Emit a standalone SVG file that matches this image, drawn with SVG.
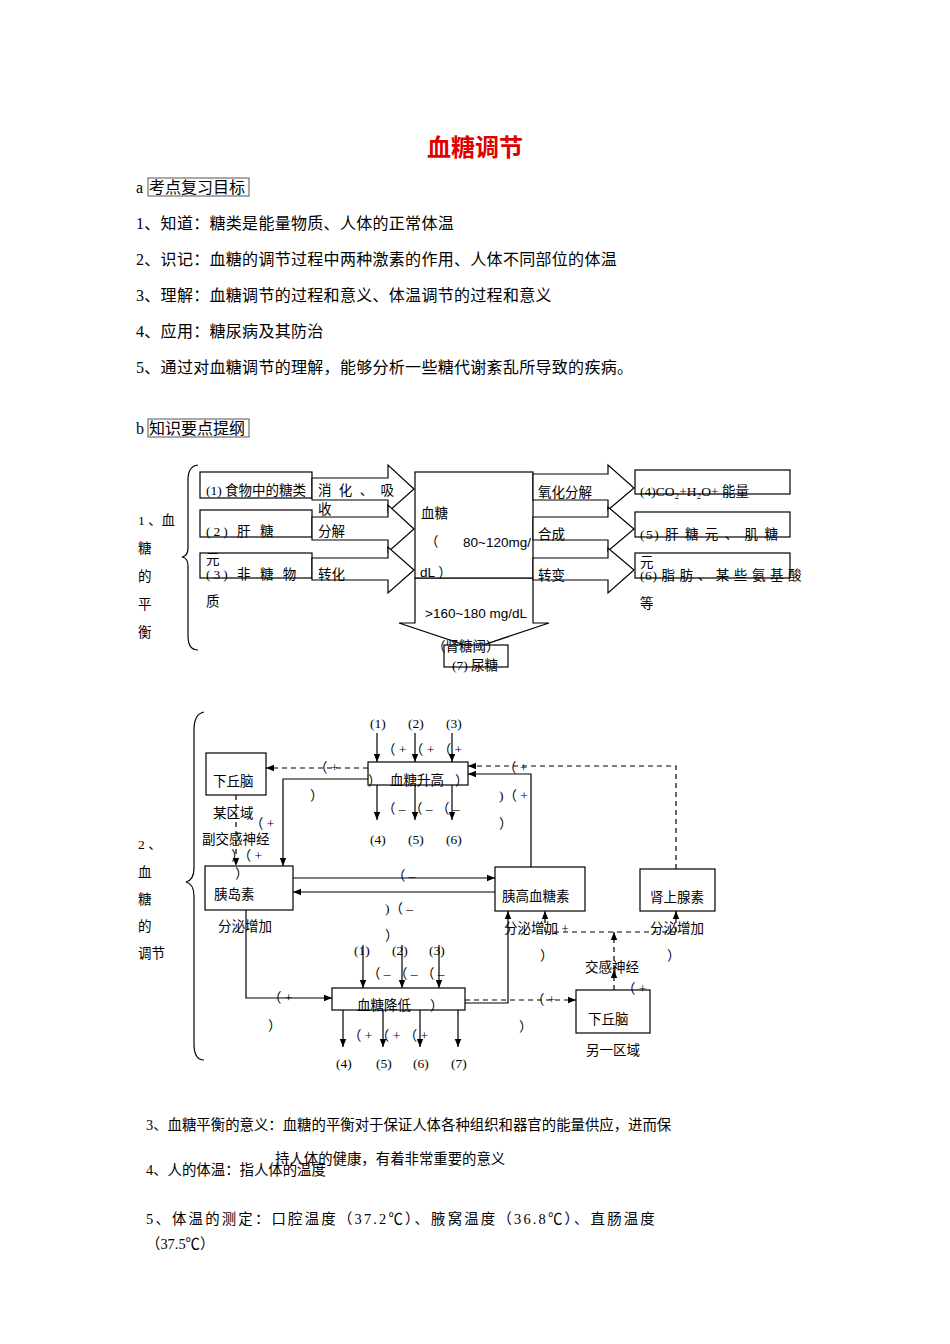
<svg xmlns="http://www.w3.org/2000/svg" width="950" height="1344" viewBox="0 0 950 1344">
<defs>
<style>
text{font-family:"Liberation Serif","Noto Sans CJK SC",serif;fill:#000}
.b{font-size:16px;letter-spacing:0.3px}
.s{font-size:13.5px;fill:#333}
.t{font-size:14.4px;fill:#222;font-family:"Liberation Sans","Noto Sans CJK SC",sans-serif}
.n{stroke:#000;stroke-width:1.2;fill:#fff}
.blk{stroke:#000;stroke-width:1.2;fill:#fff}
.l{stroke:#000;stroke-width:1.2;fill:none}
.d{stroke:#000;stroke-width:1.2;fill:none;stroke-dasharray:5,4}
</style>
<marker id="a" viewBox="0 0 10 10" refX="10" refY="5" markerWidth="7" markerHeight="7" orient="auto"><path d="M0,1 L10,5 L0,9z" fill="#000"/></marker>
</defs>
<text x="475" y="156" text-anchor="middle" style="font-family:'Liberation Sans','Noto Sans CJK SC',sans-serif;font-size:24px;font-weight:bold;fill:#e00000">血糖调节</text>
<text class="b" x="136" y="193">a</text><rect x="148" y="178" width="101" height="18" fill="none" stroke="#555"/><text class="b" x="149" y="193" style="letter-spacing:0">考点复习目标</text>
<text class="b" x="136" y="229">1、知道：糖类是能量物质、人体的正常体温</text>
<text class="b" x="136" y="265">2、识记：血糖的调节过程中两种激素的作用、人体不同部位的体温</text>
<text class="b" x="136" y="301">3、理解：血糖调节的过程和意义、体温调节的过程和意义</text>
<text class="b" x="136" y="337">4、应用：糖尿病及其防治</text>
<text class="b" x="136" y="373">5、通过对血糖调节的理解，能够分析一些糖代谢紊乱所导致的疾病。</text>
<text class="b" x="136" y="434">b</text><rect x="148" y="419" width="101" height="18" fill="none" stroke="#555"/><text class="b" x="149" y="434" style="letter-spacing:0">知识要点提纲</text>

<g id="d1">
<path class="l" d="M198,465 Q188,466 188,480 L188,548 Q188,556 182,557 Q188,558 188,566 L188,636 Q188,650 198,650"/>
<g class="s"><text x="138" y="525">1 、血</text><text x="138" y="553">糖</text><text x="138" y="581">的</text><text x="138" y="609">平</text><text x="138" y="637">衡</text></g>
<rect id="n1" class="n" x="200" y="472" width="112" height="26"/>
<rect id="n2" class="n" x="200" y="510" width="112" height="27"/>
<rect id="n3" class="n" x="200" y="553" width="112" height="25"/>
<g id="arrowsL">
<polygon class="blk" points="312,478 388,478 388,465 414,489 388,512 388,500 312,500"/>
<polygon class="blk" points="312,517 388,517 388,505 414,529 388,552 388,540 312,540"/>
<polygon class="blk" points="312,558 388,558 388,547 414,570 388,593 388,580 312,580"/>
</g>
<polygon id="down" class="blk" points="415,578 533,578 533,623 549,623 474,648 399,623 415,623"/>
<rect id="bg" class="n" x="415" y="472" width="118" height="106"/>
<g id="arrowsR">
<polygon class="blk" points="533,474 608,474 608,465 634,488 608,510 608,500 533,500"/>
<polygon class="blk" points="533,517 608,517 608,507 634,529 608,551 608,540 533,540"/>
<polygon class="blk" points="533,558 608,558 608,548 634,570 608,593 608,580 533,580"/>
</g>
<rect id="r1" class="n" x="635" y="470" width="155" height="24"/>
<rect id="r2" class="n" x="635" y="512" width="155" height="25"/>
<rect id="r3" class="n" x="635" y="553" width="155" height="25"/>
<rect id="n7" class="n" x="444" y="645" width="64" height="22"/>
<g class="s">
<text x="206" y="495">(1) 食物中的糖类</text><text x="318" y="495" letter-spacing="2">消 化 、 吸</text><text x="318" y="514">收</text>
<text x="206" y="536" letter-spacing="3">(2) 肝 糖</text><text x="318" y="536">分解</text><text x="206" y="564">元</text>
<text x="206" y="579" letter-spacing="3">(3) 非 糖 物</text><text x="318" y="579">转化</text><text x="206" y="606">质</text>
<text x="421" y="518">血糖</text><text x="425" y="546">（</text><text x="463" y="547" style="font-family:'Liberation Sans',sans-serif">80~120mg/</text>
<text x="420" y="577" style="font-family:'Liberation Sans','Noto Sans CJK SC',sans-serif">dL ）</text>
<text x="425" y="618" style="font-family:'Liberation Sans',sans-serif">&gt;160~180 mg/dL</text>
<text x="432" y="651">（肾糖阈）</text><text x="452" y="670">(7) 尿糖</text>
<text x="538" y="497">氧化分解</text><text x="538" y="539">合成</text><text x="538" y="580">转变</text>
<text x="640" y="496">(4)CO₂+H₂O+ 能量</text>
<text x="640" y="539" letter-spacing="1.5">(5) 肝 糖 元 、 肌 糖</text><text x="640" y="567">元</text>
<text x="640" y="580" letter-spacing="0.6">(6) 脂 肪 、 某 些 氨 基 酸</text><text x="640" y="608">等</text>
</g>
</g>

<g id="d2">
<path class="l" d="M204,712 Q194,714 194,730 L194,868 Q194,880 186,882 Q194,884 194,896 L194,1044 Q194,1060 204,1060"/>
<g class="s"><text x="138" y="849">2  、</text><text x="138" y="877">血</text><text x="138" y="904">糖</text><text x="138" y="931">的</text><text x="138" y="958">调节</text></g>
<rect id="xq1" class="n" x="206" y="753" width="60" height="42"/>
<rect id="up" class="n" x="368" y="762" width="100" height="23"/>
<rect id="yd" class="n" x="205" y="866" width="88" height="44"/>
<rect id="ygx" class="n" x="495" y="867" width="90" height="44"/>
<rect id="ss" class="n" x="640" y="869" width="75" height="42"/>
<rect id="down2" class="n" x="332" y="988" width="133" height="22"/>
<rect id="xq2" class="n" x="576" y="990" width="74" height="43"/>
<g id="connectors">
<path class="d" d="M368,768 L266,768" marker-end="url(#a)"/>
<path class="l" d="M368,779 L283,779 L283,866" marker-end="url(#a)"/>
<path class="d" d="M236,795 L236,866" marker-end="url(#a)"/>
<path class="l" d="M293,878 L495,878" marker-end="url(#a)"/>
<path class="l" d="M495,892 L293,892" marker-end="url(#a)"/>
<path class="l" d="M531,867 L531,774 L468,774" marker-end="url(#a)"/>
<path class="d" d="M676,869 L676,766 L468,766" marker-end="url(#a)"/>
<path class="l" d="M377,733 L377,762" marker-end="url(#a)"/>
<path class="l" d="M415,733 L415,762" marker-end="url(#a)"/>
<path class="l" d="M452,733 L452,762" marker-end="url(#a)"/>
<path class="l" d="M377,785 L377,820" marker-end="url(#a)"/>
<path class="l" d="M415,785 L415,820" marker-end="url(#a)"/>
<path class="l" d="M452,785 L452,820" marker-end="url(#a)"/>
<path class="l" d="M246,910 L246,998 L332,998" marker-end="url(#a)"/>
<path class="l" d="M465,1003 L508,1003 L508,911" marker-end="url(#a)"/>
<path class="d" d="M465,1000 L576,1000" marker-end="url(#a)"/>
<path class="d" d="M614,990 L614,970" marker-end="url(#a)"/>
<path class="d" d="M614,970 L614,932" marker-end="url(#a)"/>
<path class="d" d="M545,932 L676,932"/>
<path class="d" d="M545,932 L545,911" marker-end="url(#a)"/>
<path class="d" d="M676,932 L676,911" marker-end="url(#a)"/>
<path class="l" d="M363,945 L363,988" marker-end="url(#a)"/>
<path class="l" d="M402,945 L402,988" marker-end="url(#a)"/>
<path class="l" d="M439,945 L439,988" marker-end="url(#a)"/>
<path class="l" d="M343,1010 L343,1047" marker-end="url(#a)"/>
<path class="l" d="M383,1010 L383,1047" marker-end="url(#a)"/>
<path class="l" d="M420,1010 L420,1047" marker-end="url(#a)"/>
<path class="l" d="M458,1010 L458,1047" marker-end="url(#a)"/>
</g>
<g class="s">
<text x="213" y="786">下丘脑</text><text x="213" y="818">某区域</text><text x="202" y="844">副交感神经</text>
<text x="390" y="785">血糖升高</text><text x="214" y="899">胰岛素</text><text x="218" y="931">分泌增加</text>
<text x="502" y="901">胰高血糖素</text><text x="504" y="933">分泌增加 +</text><text x="650" y="902">肾上腺素</text><text x="650" y="933">分泌增加</text>
<text x="585" y="972">交感神经</text><text x="588" y="1024">下丘脑</text><text x="586" y="1055">另一区域</text>
<text x="357" y="1010">血糖降低</text>
<text x="370" y="728">(1)</text><text x="408" y="728">(2)</text><text x="446" y="728">(3)</text>
<text x="370" y="844">(4)</text><text x="408" y="844">(5)</text><text x="446" y="844">(6)</text>
<text x="354" y="955">(1)</text><text x="392" y="955">(2)</text><text x="429" y="955">(3)</text>
<text x="336" y="1068">(4)</text><text x="376" y="1068">(5)</text><text x="413" y="1068">(6)</text><text x="451" y="1068">(7)</text>
<text x="382" y="754">（  +  （  +  （  +</text>
<text x="382" y="813">（  –     （  –    （  –</text>
<text x="367" y="978">（  –     （  –    （  –</text>
<text x="348" y="1040">（  +    （  +    （  +</text>
<text x="314" y="772">（ +</text><text x="310" y="800">）</text>
<text x="368" y="785">）</text><text x="455" y="785">）</text>
<text x="503" y="772">（ +</text><text x="499" y="800">)（  +</text><text x="499" y="828">）</text>
<text x="250" y="828">（ +</text><text x="231" y="860">）（  +</text><text x="235" y="878">）</text>
<text x="392" y="880">（  –</text><text x="385" y="913">)（  –</text><text x="385" y="940">）</text>
<text x="540" y="960">）</text><text x="667" y="960">）</text>
<text x="268" y="1002">（  +</text><text x="268" y="1030">）</text><text x="430" y="1010">）</text>
<text x="531" y="1004">（ +</text><text x="519" y="1031">）</text><text x="622" y="993">（ +</text>
</g>
</g>

<g class="t">
<text x="146" y="1130">3、血糖平衡的意义：血糖的平衡对于保证人体各种组织和器官的能量供应，进而保</text>
<text x="275" y="1164">持人体的健康，有着非常重要的意义</text>
<text x="146" y="1175">4、人的体温：指人体的温度</text>
<text x="146" y="1224" letter-spacing="2.2">5、体温的测定：口腔温度（37.2℃）、腋窝温度（36.8℃）、直肠温度</text>
<text x="146" y="1249">（37.5℃）</text>
</g>
</svg>
